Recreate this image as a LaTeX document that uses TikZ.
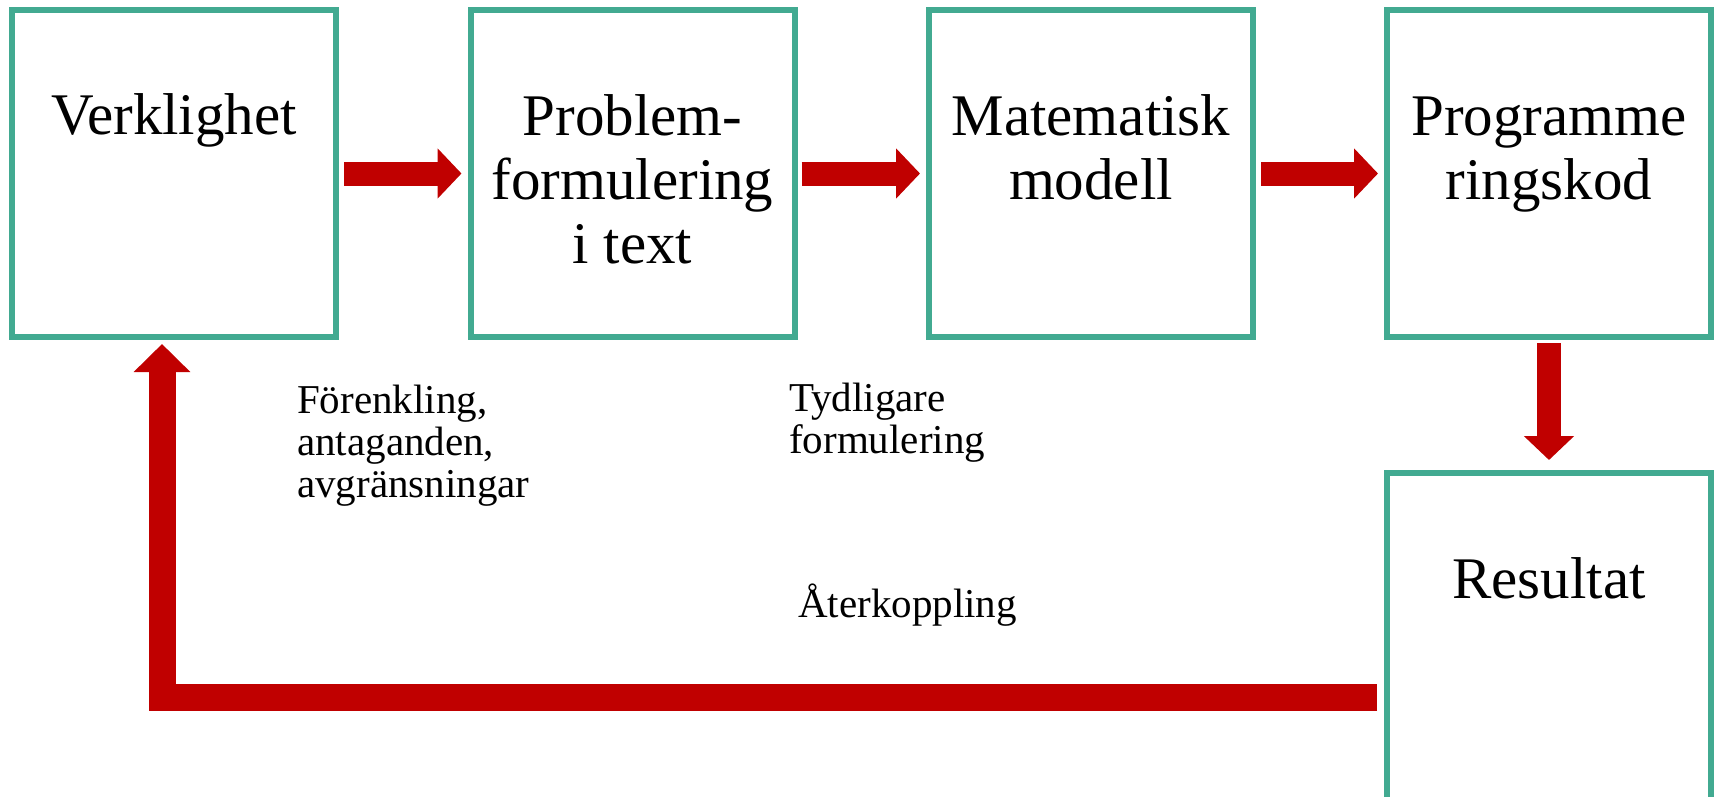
\documentclass[tikz,border=0pt]{standalone}
\usepackage{fontspec}
\setmainfont{Liberation Serif}
\usetikzlibrary{arrows.meta}
\definecolor{boxgreen}{RGB}{66,170,145}
\definecolor{flowred}{RGB}{192,0,0}
\tikzset{
  stepbox/.style={draw=boxgreen,line width=6pt,minimum width=324pt,minimum height=327pt,
    inner sep=0pt,align=center,font=\fontsize{59}{64}\selectfont,text height=0pt,text depth=77pt},
  twolines/.style={text height=51pt,text depth=0pt},
  threelines/.style={text height=179pt,text depth=0pt},
  flow/.style={draw=flowred,line width=24pt,-{Triangle[length=24pt,width=49pt]}},
  note/.style={align=left,font=\fontsize{41}{42}\selectfont,inner sep=0pt,anchor=base west}
}
\begin{document}
\begin{tikzpicture}[x=1pt,y=-1pt]
\useasboundingbox (0,0) rectangle (1718,797);
% the five steps
\node[stepbox] (verk) at (174,173.5) {Verklighet};
\node[stepbox,threelines] (prob) at (632.5,173.5) {Problem-\\formulering\\i text};
\node[stepbox,twolines] (mat) at (1091,173.5) {Matematisk\\modell};
\node[stepbox,twolines] (prog) at (1549,173.5) {Programme\\ringskod};
\node[stepbox] (res) at (1549,636.5) {Resultat};
% arrows between them
\draw[flow,shorten <=5pt,shorten >=6pt] (verk) -- (prob);
\draw[flow,shorten <=4pt,shorten >=6pt] (prob) -- (mat);
\draw[flow,shorten <=5pt,shorten >=6pt] (mat) -- (prog);
\draw[flow,shorten <=3pt,shorten >=10pt] (prog) -- (res);
% feedback loop
\draw[flow,line width=27pt,-{Triangle[length=28pt,width=55pt]},shorten >=4pt]
  ([xshift=-7pt,yshift=-60.5pt]res.west) -| ([xshift=-12pt]verk.south);
\node[note] (simp) at (297,497) {Förenkling,\\antaganden,\\avgränsningar};
\node[note] (clear) at (789,453) {Tydligare\\formulering};
\node[note] (back) at (798,617) {Återkoppling};
\end{tikzpicture}
\end{document}
